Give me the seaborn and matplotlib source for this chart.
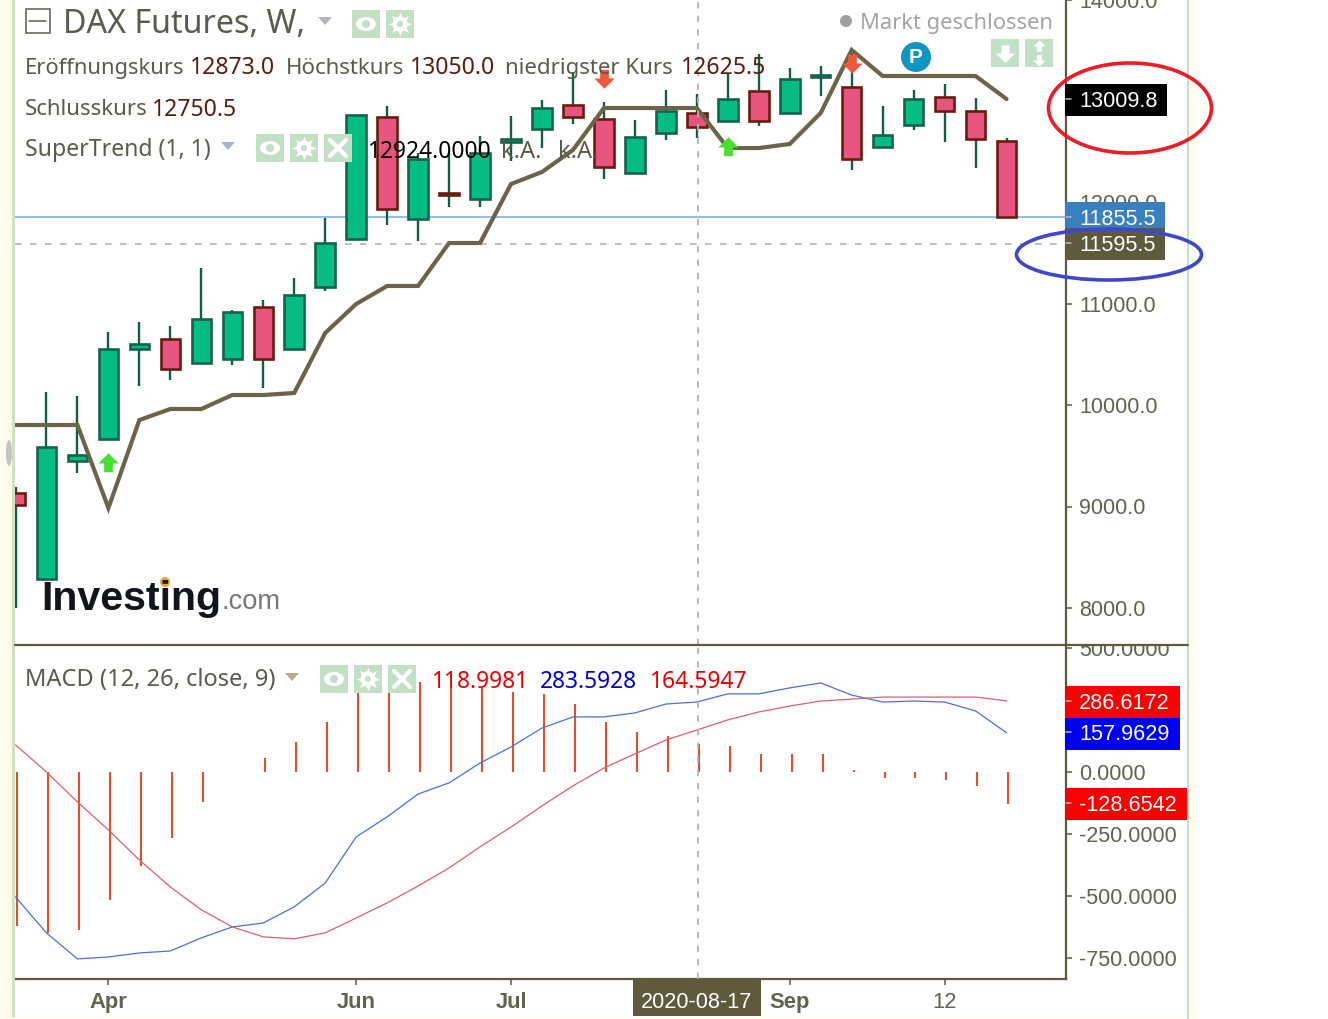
#!/usr/bin/env python3
"""DAX Futures weekly candles with SuperTrend and MACD panel (annotated screenshot look)."""

import matplotlib

matplotlib.use("Agg")
import matplotlib.pyplot as plt
import pandas as pd
import seaborn as sns
from matplotlib.patches import Circle, Ellipse, Rectangle
from matplotlib.transforms import ScaledTranslation

# weekly bars
candle_open = [9135, 8286, 9451, 9668, 10556, 10655, 10418, 10457, 10970, 10556, 11168, 11641, 12845,
               11839, 12095, 12036, 12599, 12727, 12964, 12826, 12293, 12687, 12885, 12806, 13102,
               12885, 13240, 13141, 12549, 12766, 13043, 12905, 12609]
candle_high = [9194, 10132, 10092, 10724, 10822, 10783, 11355, 10941, 11039, 11257, 11849, 12865, 12954,
               12490, 12490, 12658, 12855, 13013, 13289, 12993, 12816, 13112, 13072, 13279, 13467,
               13329, 13349, 13507, 12954, 13112, 13171, 13033, 12638]
candle_low = [8000, 8286, 9332, 9668, 10191, 10250, 10418, 10398, 10171, 10556, 11128, 11641, 11780,
              11622, 11957, 11957, 12411, 12539, 12776, 12234, 12293, 12618, 12638, 12806, 12757,
              12885, 13053, 12322, 12549, 12717, 12599, 12342, 11855]
candle_close = [9017, 9589, 9510, 10556, 10605, 10359, 10852, 10921, 10457, 11089, 11602, 12865, 11937,
                12431, 12076, 12490, 12628, 12934, 12845, 12352, 12648, 12905, 12747, 13023, 12806,
                13220, 13260, 12431, 12668, 13023, 12905, 12628, 11858]
supertrend = [9806, 9806, 9806, 8987, 9855, 9964, 9964, 10102, 10102, 10122, 10714, 11000, 11178,
              11178, 11602, 11602, 12184, 12303, 12520, 12934, 12934, 12934, 12934, 12539, 12539,
              12579, 12885, 13507, 13250, 13250, 13250, 13250, 13023]
buy_idx = [3, 23]
buy_price = [9431, 12550]
sell_idx = [19, 27]
sell_price = [13230, 13375]

# macd panel
macd_hist = [-621, -649, -637, -516, -379, -266, -121, 0, 56, 121, 202, 331, 339, 363, 339, 339, 323,
             315, 274, 202, 161, 145, 113, 105, 73, 73, 73, 6, -24, -24, -32, -56, -128.65]
macd_line = [-504, -649, -754, -746, -730, -722, -669, -625, -609, -544, -448, -262, -181, -89, -44, 36,
             101, 177, 222, 222, 238, 274, 282, 315, 315, 339, 359, 310, 282, 286, 282, 246, 157.96]
signal_line = [109, 0, -121, -234, -355, -464, -556, -625, -665, -673, -649, -589, -528, -460, -387,
               -302, -222, -137, -56, 16, 73, 129, 169, 210, 242, 266, 286, 294, 302, 302, 302, 302, 286.62]

price_ticks = [8000, 9000, 10000, 11000, 12000, 13000, 14000]
price_labels = ["8000.0", "9000.0", "10000.0", "11000.0", "12000.0", "", "14000.0"]
macd_ticks = [-750, -500, -250, 0, 250, 500]
macd_labels = ["-750.0000", "-500.0000", "-250.0000", "0.0000", "", "500.0000"]
date_ticks = [3, 11, 16, 25, 30]
date_labels = ["Apr", "Jun", "Jul", "Sep", "12"]
last_price = 11855.5
cross_price = 11595.5
cross_idx = 22

W, H = 1328, 1020
OLIVE = "#5f5a3c"
TICK_TEXT = "#63614f"
LEGEND_TEXT = "#5c5a4c"
VALUE_TEXT = "#5a1c10"
ICON = "#c2e0c4"
UP_FILL = "#05bd82"
UP_EDGE = "#14634a"
DOWN_FILL = "#e7557f"
DOWN_EDGE = "#6a1c10"
WICK = "#0f5f42"
LEG_FONT = "Noto Sans"
TICK_FONT = "Liberation Sans"

sns.set_theme(style="white")
plt.rcParams["font.family"] = [TICK_FONT, "DejaVu Sans"]
plt.rcParams["lines.solid_joinstyle"] = "miter"

bars = pd.DataFrame({
    "idx": range(len(candle_open)), "open": candle_open, "high": candle_high,
    "low": candle_low, "close": candle_close, "supertrend": supertrend,
    "hist": macd_hist, "macd": macd_line, "signal": signal_line,
})
bars["up"] = bars["close"] >= bars["open"]


def px_axes(fig, left, top, right, bottom):
    return fig.add_axes([left / W, 1 - (bottom + 1) / H, (right - left) / W, (bottom - top) / H])


fig = plt.figure(figsize=(W / 100, H / 100), dpi=100, facecolor="white")
ax = px_axes(fig, 15, 0, 1066, 645)
ax2 = px_axes(fig, 15, 645, 1066, 979)

# candles
ax.vlines(bars["idx"], bars["low"], bars["high"], color=WICK, lw=1.7, zorder=2)
for up, fill, edge in [(True, UP_FILL, UP_EDGE), (False, DOWN_FILL, DOWN_EDGE)]:
    part = bars[bars["up"] == up]
    ax.bar(part["idx"], (part["close"] - part["open"]).abs(), bottom=part[["open", "close"]].min(axis=1),
           width=0.63, color=fill, edgecolor=edge, linewidth=1.9, zorder=3)

sns.lineplot(data=bars, x="idx", y="supertrend", ax=ax, color="#6b6448", lw=3, zorder=4)
ax.axhline(last_price, color="#92bce8", lw=1.4, zorder=1)
ax.axhline(cross_price, color="#b9b2b2", lw=1.2, dashes=(4, 5), zorder=1)

up_arrow = [(-0.7, 0), (0, 0.7), (0.7, 0), (0.3, 0), (0.3, -0.6), (-0.3, -0.6), (-0.3, 0)]
down_arrow = [(x, -y) for x, y in up_arrow]
ax.scatter(buy_idx, buy_price, marker=up_arrow, s=215, color="#46e030", lw=0, zorder=5)
ax.scatter(sell_idx, sell_price, marker=down_arrow, s=215, color="#f0583c", lw=0, zorder=5)

ax.set_xlim((15 - 15.5) / 30.97, (1066 - 15.5) / 30.97)
ax.set_ylim(7635, 14000)
ax.yaxis.tick_right()
ax.set_yticks(price_ticks, price_labels)
ax.set_xticks([])
ax.set(xlabel="", ylabel="")

# macd
ax2.vlines(bars["idx"] + 0.06, 0, bars["hist"], color="#e0502f", lw=1.5, zorder=2)
sns.lineplot(data=bars, x="idx", y="macd", ax=ax2, color="#4a70d8", lw=0.9, zorder=3)
sns.lineplot(data=bars, x="idx", y="signal", ax=ax2, color="#df5f6c", lw=0.9, zorder=3)
ax2.set_xlim(ax.get_xlim())
ax2.set_ylim(-835, 512)
ax2.yaxis.tick_right()
ax2.set_yticks(macd_ticks, macd_labels)
ax2.set_xticks(date_ticks, date_labels)
ax2.set(xlabel="", ylabel="")
for lab in ax2.get_xticklabels():
    if lab.get_text() != "12":
        lab.set_fontweight("bold")

for a in (ax, ax2):
    a.axvline(cross_idx + 0.04, color="#b4b2b2", lw=1.3, dashes=(3.5, 4), zorder=6)
    a.set_facecolor("white")
    sns.despine(ax=a, left=True, top=True, bottom=a is ax, right=False)
    a.spines["right"].set_color(OLIVE)
    a.spines["right"].set_linewidth(1.6)
    a.spines["bottom"].set_color(OLIVE)
    a.spines["bottom"].set_linewidth(1.6)
    a.tick_params(axis="y", right=True, length=4.3, width=1.1, color=OLIVE, pad=5,
                  labelsize=15.5, labelcolor=TICK_TEXT)
    a.tick_params(axis="x", bottom=True, length=4.3, width=1.1, color=OLIVE, pad=4,
                  labelsize=15.8, labelcolor=TICK_TEXT)

# value labels sit a little above their ticks in the original
nudge = ScaledTranslation(0, 1.2 / 100, fig.dpi_scale_trans)
for lab in ax.get_yticklabels() + ax2.get_yticklabels():
    lab.set_transform(lab.get_transform() + nudge)

# everything around the plot is placed in screen pixels
top = fig.add_axes([0, 0, 1, 1], zorder=10)
top.set_xlim(0, W)
top.set_ylim(H - 1, -1)
top.axis("off")


def rect(x0, y0, x1, y1, color, **kw):
    top.add_patch(Rectangle((x0, y0), x1 - x0, y1 - y0, facecolor=color, edgecolor="none", **kw))


def label(x, y, s, color=LEGEND_TEXT, size=16, font=LEG_FONT, ha="left", weight="normal"):
    top.text(x, y + 1.5, s, color=color, fontsize=size, family=font, ha=ha, va="center", fontweight=weight)


def caret(x, y, color="#b5b3bb"):
    top.fill([x, x + 14, x + 7], [y - 4, y - 4, y + 4], color=color, lw=0)


def eye_icon(x, y):
    rect(x, y, x + 28, y + 28, ICON)
    top.add_patch(Ellipse((x + 14, y + 14), 20, 14, color="white", lw=0))
    top.add_patch(Circle((x + 14, y + 14), 4, color=ICON, lw=0))


def gear_icon(x, y):
    rect(x, y, x + 28, y + 28, ICON)
    top.scatter([x + 14], [y + 14], marker=(8, 1, 0), s=300, color="white", lw=0)
    top.add_patch(Circle((x + 14, y + 14), 7.5, color="white", lw=0))
    top.add_patch(Circle((x + 14, y + 14), 3, color=ICON, lw=0))


def close_icon(x, y):
    rect(x, y, x + 28, y + 28, ICON)
    top.plot([x + 6, x + 22], [y + 6, y + 22], color="white", lw=3)
    top.plot([x + 6, x + 22], [y + 22, y + 6], color="white", lw=3)


# screenshot frame
rect(0, -1, 12, H, "#fdfcec")
rect(12, -1, 15, H, "#cfe3c4")
rect(0, 1017, 1188, H, "#fdfcec")
rect(1187, -1, 1189, H, "#c4e0cf")
rect(1189, -1, 1195, H, "#fdfcec")
top.add_patch(Ellipse((9, 453), 6, 26, color="#c4c4c8", lw=0))
rect(1068, 630, 1187, 644, "white")
top.plot([15, 1188], [645, 645], color=OLIVE, lw=1.6)

# header
top.add_patch(Rectangle((25.5, 8.5), 24, 24, facecolor="none", edgecolor="#6a6a5c", lw=1.2))
top.plot([29, 46], [20.5, 20.5], color="#6a6a5c", lw=1.2)
label(63, 22, "DAX Futures, W,", size=23.2)
caret(318, 21)
eye_icon(352, 10)
gear_icon(386, 10)

label(25, 66, "Eröffnungskurs", size=15.8)
label(190, 66, "12873.0", VALUE_TEXT, 16.6)
label(286, 66, "Höchstkurs")
label(410, 66, "13050.0", VALUE_TEXT, 16.6)
label(505, 66, "niedrigster Kurs")
label(681, 66, "12625.5", VALUE_TEXT, 16.6)
label(25, 107, "Schlusskurs")
label(152, 107, "12750.5", VALUE_TEXT, 16.6)
label(25, 147, "SuperTrend (1, 1)", size=16.6)
caret(221, 146, "#a9b4cc")
eye_icon(256, 134)
gear_icon(290, 134)
close_icon(324, 134)
label(367, 149, "12924.0000", "black", 16.4)
label(501, 149, "k.A.", size=17)
label(558, 149, "k.A.", size=17)

top.add_patch(Circle((846, 21), 6, color="#a0a0a0", lw=0))
label(860, 21, "Markt geschlossen", "#a4a4a4", 15.8)
top.add_patch(Circle((916, 57), 15, color="#0e95c2", lw=0))
label(916, 55, "P", "white", 15, TICK_FONT, "center", "bold")
rect(991, 39, 1019, 67, ICON)
top.scatter([1005], [53], marker=down_arrow, s=190, color="white", lw=0)
rect(1025, 39, 1053, 67, ICON)
top.scatter([1039], [46], marker=up_arrow, s=80, color="white", lw=0)
top.scatter([1039], [60], marker=down_arrow, s=80, color="white", lw=0)

# logo
label(41, 597, "Investing", "#14141c", 29.6, TICK_FONT, weight="bold")
label(222, 600, ".com", "#77777c", 19.6, TICK_FONT)
top.add_patch(Circle((165, 582), 5, color="#e8a82c", lw=0))

# macd legend
label(25, 678, "MACD (12, 26, close, 9)", size=17)
caret(285, 677, "#b4ae8c")
eye_icon(320, 665)
gear_icon(354, 665)
close_icon(388, 665)
label(431, 680, "118.9981", "#ee0000", 16.4)
label(540, 680, "283.5928", "#0000dd", 16.4)
label(649, 680, "164.5947", "#ee0000", 16.4)

# value tags on the axes
tags = [
    (1167, 84, 116, 100, "black", "13009.8"),
    (1165, 202, 230, 218, "#3a80c0", "11855.5"),
    (1165, 228, 260, 244, OLIVE, "11595.5"),
    (1180, 686, 718, 702, "#fb0000", "286.6172"),
    (1180, 718, 750, 733, "#0000f5", "157.9629"),
    (1187, 788, 820, 804, "#fb0000", "-128.6542"),
]
for x1, y0, y1, y_mid, color, s in tags:
    rect(1065, y0, x1, y1, color)
    top.plot([1066, 1071], [y_mid - 1, y_mid - 1], color="#b8b8b8", lw=1.1)
    label(1079, y_mid - 1, s, "white", 15.6, TICK_FONT)
rect(633, 979, 761, 1016, OLIVE)
label(697, 1000, "2020-08-17", "white", 15.6, TICK_FONT, "center")

# hand drawn rings
top.add_patch(Ellipse((1130, 108), 163, 90, facecolor="none", edgecolor="#ee1c24", lw=2.6))
top.add_patch(Ellipse((1109, 254.5), 185, 51, facecolor="none", edgecolor="#3f48cc", lw=2.6))

fig.savefig("out.png", dpi=100)
